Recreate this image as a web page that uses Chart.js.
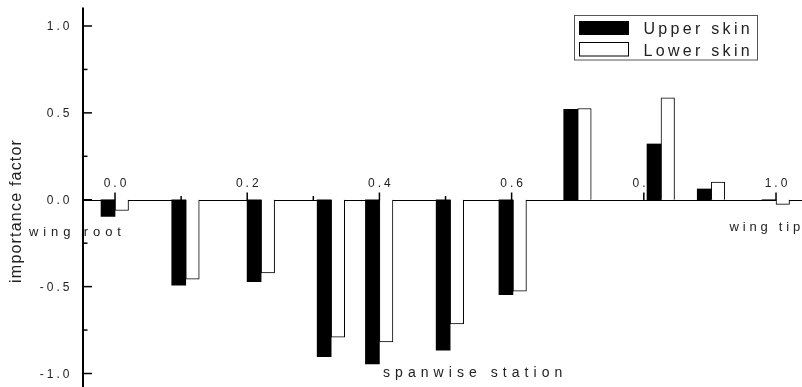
<!DOCTYPE html>
<html>
<head>
<meta charset="utf-8">
<script src="https://cdn.jsdelivr.net/npm/chart.js@4"></script>
<style>
html,body{margin:0;padding:0;background:#fff;}
canvas{display:block;}
</style>
</head>
<body>
<canvas id="c" width="802" height="387"></canvas>
<script>
// ---- data ----
const stations = [0.0, 0.107, 0.221, 0.327, 0.4, 0.507, 0.602, 0.7, 0.826, 0.902, 1.0];
const upperSkin = [-0.096, -0.492, -0.471, -0.903, -0.945, -0.866, -0.546, 0.52, 0.321, 0.062, -0.005];
const lowerSkin = [-0.062, -0.457, -0.421, -0.791, -0.818, -0.715, -0.526, 0.525, 0.586, 0.102, -0.027];
const seriesNames = ['Upper skin', 'Lower skin'];
const xMajorTicks = [0.0, 0.2, 0.4, 0.6, 0.8, 1.0];
const xMinorTicks = [0.1, 0.3, 0.5, 0.7, 0.9];
const yMajorTicks = [-1.0, -0.5, 0.0, 0.5, 1.0];
const yMinorTicks = [-0.75, -0.25, 0.25, 0.75];
const xTitle = 'spanwise station';
const yTitle = 'importance factor';
const rootLabel = 'wing root';
const tipLabel = 'wing tip';

const FONT = '"Liberation Sans", Arial, Helvetica, sans-serif';
const TXT = '#222';

function drawSpaced(ctx, text, x, y, size, spacing, align) {
  ctx.save();
  ctx.font = size + 'px ' + FONT;
  ctx.letterSpacing = spacing + 'px';
  ctx.fillStyle = TXT;
  ctx.textBaseline = 'alphabetic';
  ctx.textAlign = 'left';
  const w = ctx.measureText(text).width - spacing;
  let left = x;
  if (align === 'center') left = x - w / 2;
  else if (align === 'right') left = x - w;
  ctx.fillText(text, left, y);
  ctx.restore();
}

const axesPlugin = {
  id: 'customAxes',
  beforeDatasetsDraw(chart) {
    const ctx = chart.ctx;
    const xs = chart.scales.x, ys = chart.scales.y;
    const y0 = Math.round(ys.getPixelForValue(0)) + 0.5;
    const axX = Math.round(xs.getPixelForValue(-0.05));
    ctx.save();
    ctx.strokeStyle = '#000';
    // zero line (x axis)
    ctx.lineWidth = 1.2;
    ctx.beginPath();
    ctx.moveTo(axX, y0);
    ctx.lineTo(chart.width, y0);
    ctx.stroke();
    // x ticks (upwards)
    ctx.lineWidth = 1.5;
    xMajorTicks.forEach(v => {
      const px = xs.getPixelForValue(v);
      ctx.beginPath(); ctx.moveTo(px, y0); ctx.lineTo(px, y0 - 8); ctx.stroke();
    });
    xMinorTicks.forEach(v => {
      const px = xs.getPixelForValue(v);
      ctx.beginPath(); ctx.moveTo(px, y0); ctx.lineTo(px, y0 - 4.5); ctx.stroke();
    });
    // y axis line
    ctx.lineWidth = 2;
    ctx.beginPath();
    ctx.moveTo(axX + 1, ys.getPixelForValue(1.107));
    ctx.lineTo(axX + 1, chart.height);
    ctx.stroke();
    // y ticks (inwards)
    ctx.lineWidth = 1.5;
    yMajorTicks.forEach(v => {
      const py = ys.getPixelForValue(v);
      ctx.beginPath(); ctx.moveTo(axX, py); ctx.lineTo(axX + 10, py); ctx.stroke();
    });
    yMinorTicks.forEach(v => {
      const py = ys.getPixelForValue(v);
      ctx.beginPath(); ctx.moveTo(axX, py); ctx.lineTo(axX + 5.5, py); ctx.stroke();
    });
    ctx.restore();
    // x tick labels
    xMajorTicks.forEach(v => {
      drawSpaced(ctx, v.toFixed(1), xs.getPixelForValue(v), y0 - 13.5, 12, 3, 'center');
    });
    // y tick labels
    yMajorTicks.forEach(v => {
      drawSpaced(ctx, v.toFixed(1), 69.5, ys.getPixelForValue(v) + 4.3, 12, 3, 'right');
    });
    // annotations
    drawSpaced(ctx, rootLabel, 29, 236, 13, 4.9, 'left');
    drawSpaced(ctx, tipLabel, 729.5, 231, 13, 3.8, 'left');
    drawSpaced(ctx, xTitle, 383, 377, 14, 5.05, 'left');
    // y title rotated
    ctx.save();
    ctx.translate(21, 211.5);
    ctx.rotate(-Math.PI / 2);
    drawSpaced(ctx, yTitle, 0, 0, 16, 1.2, 'center');
    ctx.restore();
  },
  afterDraw(chart) {
    const ctx = chart.ctx;
    ctx.save();
    // legend box
    ctx.strokeStyle = '#555';
    ctx.lineWidth = 1;
    ctx.strokeRect(574.5, 15.5, 183, 44.5);
    // swatches
    ctx.fillStyle = '#000';
    ctx.fillRect(579, 21, 50, 14);
    ctx.fillStyle = '#fff';
    ctx.fillRect(579, 42, 50, 14);
    ctx.strokeStyle = '#000';
    ctx.strokeRect(579.5, 42.5, 49, 13.5);
    ctx.restore();
    drawSpaced(ctx, seriesNames[0], 643.5, 34.3, 16, 3.3, 'left');
    drawSpaced(ctx, seriesNames[1], 643.5, 56.3, 16, 3.3, 'left');
  }
};

new Chart(document.getElementById('c'), {
  type: 'bar',
  data: {
    datasets: [
      {
        label: seriesNames[0],
        data: stations.map((s, i) => ({ x: s, y: upperSkin[i] })),
        backgroundColor: '#000',
        borderWidth: 0,
        barThickness: 14
      },
      {
        label: seriesNames[1],
        data: stations.map((s, i) => ({ x: s, y: lowerSkin[i] })),
        backgroundColor: '#fff',
        borderColor: '#000',
        borderWidth: 1,
        barThickness: 13.5
      }
    ]
  },
  options: {
    responsive: false,
    devicePixelRatio: 1,
    animation: false,
    layout: { padding: 0 },
    plugins: { legend: { display: false }, tooltip: { enabled: false } },
    scales: {
      x: { type: 'linear', min: -0.174, max: 1.0393, display: false, offset: false },
      y: { type: 'linear', min: -1.0777, max: 1.1496, display: false }
    }
  },
  plugins: [axesPlugin]
});
</script>
</body>
</html>
